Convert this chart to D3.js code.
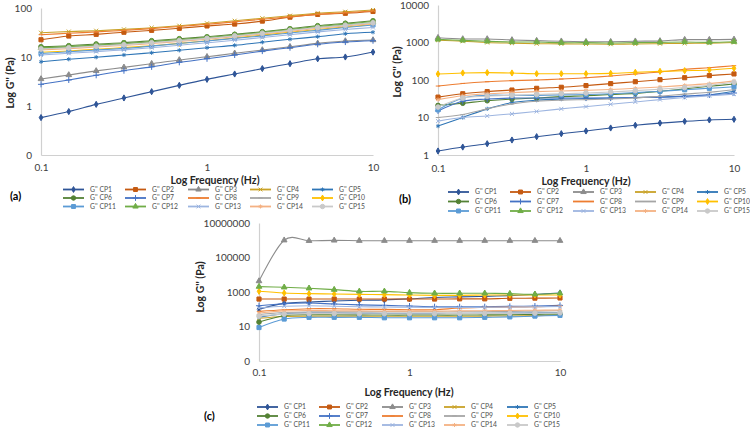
<!DOCTYPE html>
<html lang="en">
<head>
<meta charset="UTF-8">
<title>G'' frequency sweeps</title>
<script src="https://d3js.org/d3.v7.min.js"></script>
<style>
  body { margin: 0; background: #fff; }
  svg text { font-family: Lato, "Open Sans", sans-serif; }
</style>
</head>
<body>
<div id="chart"></div>
<script>
// frequencies (Hz), same for all three panels
var freq = [0.1, 0.147, 0.215, 0.316, 0.464, 0.681, 1, 1.468, 2.154, 3.162, 4.642, 6.813, 10];

var seriesNames = ["G'' CP1", "G'' CP2", "G'' CP3", "G'' CP4", "G'' CP5",
                   "G'' CP6", "G'' CP7", "G'' CP8", "G'' CP9", "G'' CP10",
                   "G'' CP11", "G'' CP12", "G'' CP13", "G'' CP14", "G'' CP15"];

var seriesColors = ["#2F5597", "#C55A11", "#8C8C8C", "#C9A227", "#2E75B6",
                    "#548235", "#4472C4", "#ED7D31", "#A5A5A5", "#FFC000",
                    "#5B9BD5", "#70AD47", "#9DB5E0", "#F4B183", "#C9C9C9"];

var seriesMarkers = ["diamond", "square", "triangle", "x", "star",
                     "circle", "plus", "dash", "dash", "diamond",
                     "square", "triangle", "x", "star", "circle"];

// panel (a)
var valuesA = [
  [0.58, 0.77, 1.08, 1.46, 1.96, 2.64, 3.5, 4.5, 5.8, 7.3, 9.2, 10, 12.6],
  [22.5, 26.8, 29, 32, 35, 38.5, 43, 47, 54, 65, 74, 78, 85],
  [3.56, 4.3, 5.2, 6.15, 7.3, 8.7, 10.1, 11.9, 13.9, 16.2, 19, 21.2, 22.2],
  [31.3, 33, 34.4, 36.7, 39.6, 43.5, 48.7, 55, 61.7, 69.7, 78, 84, 91],
  [8.0, 9.0, 9.9, 11, 12.2, 13.7, 15.5, 17.3, 20, 23, 26, 29.9, 32],
  [16.2, 17, 18.4, 19.6, 21.5, 23.6, 25.9, 29, 32.8, 37.8, 43.5, 48.7, 55],
  [2.77, 3.4, 4.24, 5.25, 6.3, 7.8, 9.2, 11, 13.2, 15.5, 18.2, 20.2, 21.5],
  [28.5, 30.5, 32.5, 35, 38, 42, 46.5, 52, 59, 66, 74, 80, 87],
  [15, 16, 17.3, 18.6, 20.4, 22.4, 24.6, 27.6, 31, 35.5, 40.5, 45, 50],
  [12.5, 13.3, 14.4, 15.5, 17, 19, 21.5, 24.5, 28, 32, 36.5, 41, 46],
  [11.8, 12.8, 13.9, 15, 16.7, 18.9, 21.2, 24, 27, 31, 35, 40, 45],
  [15.5, 16.3, 17.6, 18.9, 20.7, 22.8, 25, 28, 31.7, 36.5, 42, 47, 53],
  [11, 11.9, 12.9, 14, 15.5, 17.4, 19.5, 22, 25, 28.5, 32.5, 36.5, 40],
  [14, 14.8, 16, 17.2, 18.8, 20.8, 23, 26, 29.5, 33.5, 38.5, 43, 48],
  [14.6, 15.4, 16.6, 17.8, 19.5, 21.6, 24, 27, 30.5, 35, 40, 44.5, 50]
];

// panel (b)
var valuesB = [
  [1.28, 1.63, 2.0, 2.51, 3.08, 3.7, 4.37, 5.25, 6.2, 7.1, 7.9, 8.6, 8.95],
  [35, 43, 49, 54, 60, 64, 71, 80, 90, 102, 115, 131, 145],
  [1340, 1240, 1240, 1170, 1120, 1080, 1050, 1050, 1080, 1100, 1190, 1190, 1210],
  [1150, 1080, 1000, 960, 930, 920, 910, 900, 910, 930, 950, 960, 1000],
  [5.9, 10, 17, 25, 29, 31, 32, 33, 34, 35, 37, 40, 50],
  [21, 24, 28, 31, 33, 36, 38, 41, 44, 50, 58, 68, 78],
  [15, 27, 31, 33, 33, 33, 33, 33, 34, 35, 37, 40, 45],
  [69, 81, 90, 96, 100, 106, 115, 128, 145, 163, 192, 213, 241],
  [10, 12, 17, 23, 27, 29, 30, 31, 33, 37, 42, 47, 55],
  [145, 154, 157, 154, 147, 147, 147, 150, 160, 170, 177, 185, 205],
  [16, 33, 39, 39, 39, 40, 41, 43, 46, 50, 55, 60, 66],
  [1210, 1140, 1075, 1030, 1030, 990, 990, 970, 990, 1010, 1030, 1010, 1050],
  [8, 10, 11, 12.5, 14.5, 17, 19.5, 22.5, 26, 30, 34, 38, 42],
  [30, 38, 43, 46, 49, 51, 53, 56, 60, 65, 72, 80, 95],
  [19, 33, 37, 39, 41, 43, 45, 48, 52, 57, 63, 72, 87]
];

// panel (c)
var valuesC = [
  [100, 220, 260, 300, 330, 350, 400, 480, 520, 560, 620, 720, 880],
  [390, 390, 390, 390, 390, 390, 390, 390, 400, 400, 430, 440, 450],
  [4300, 1000000, 930000, 980000, 940000, 940000, 940000, 940000, 940000, 940000, 940000, 940000, 940000],
  [30, 38, 40, 40, 40, 39, 39, 39, 39, 40, 41, 43, 45],
  [35, 55, 60, 60, 58, 57, 56, 56, 57, 58, 60, 62, 65],
  [18, 42, 48, 48, 47, 46, 46, 46, 46, 47, 48, 50, 52],
  [160, 210, 230, 200, 180, 167, 153, 140, 140, 140, 146, 153, 167],
  [75, 93, 107, 107, 100, 98, 93, 93, 117, 128, 135, 140, 155],
  [50, 65, 70, 70, 70, 70, 70, 70, 70, 72, 75, 78, 82],
  [1100, 875, 800, 765, 730, 700, 670, 640, 640, 670, 670, 670, 670],
  [8.7, 27, 34, 34, 34, 32, 32, 32, 32, 34, 36, 40, 44],
  [2050, 1870, 1640, 1370, 1090, 1090, 915, 840, 840, 840, 800, 730, 840],
  [120, 150, 160, 150, 140, 135, 130, 128, 128, 130, 135, 140, 145],
  [60, 80, 85, 82, 80, 78, 78, 78, 80, 82, 85, 88, 90],
  [40, 52, 56, 56, 55, 55, 55, 55, 56, 57, 58, 60, 62]
];

var xTicks = [0.1, 1, 10];
var xTickLabels = ["0.1", "1", "10"];
var yTicksA = [0.1, 1, 10, 100];
var yTickLabelsA = ["0", "1", "10", "100"];
var yTicksB = [1, 10, 100, 1000, 10000];
var yTickLabelsB = ["1", "10", "100", "1000", "10000"];
var yTicksC = [0.1, 10, 1000, 100000, 10000000];
var yTickLabelsC = ["0", "10", "1000", "100000", "10000000"];

var svg = d3.select("#chart").append("svg")
  .attr("width", 750)
  .attr("height", 428);

var symbolDash = {
  draw: function (ctx, size) {
    var w = Math.sqrt(size) * 0.6;
    ctx.moveTo(-w, 0);
    ctx.lineTo(w, 0);
  }
};

var markerTypes = {
  diamond: { type: d3.symbolDiamond, size: 11, filled: true },
  square: { type: d3.symbolSquare, size: 17, filled: true },
  triangle: { type: d3.symbolTriangle, size: 14, filled: true },
  circle: { type: d3.symbolCircle, size: 17, filled: true },
  x: { type: d3.symbolTimes, size: 12, filled: false },
  star: { type: d3.symbolAsterisk, size: 12, filled: false },
  plus: { type: d3.symbolPlus, size: 14, filled: false },
  dash: { type: symbolDash, size: 14, filled: false }
};

function addMarker(g, i, cx, cy, scale) {
  var m = markerTypes[seriesMarkers[i]];
  g.append("path")
    .attr("d", d3.symbol().type(m.type).size(m.size * (scale || 1))())
    .attr("transform", "translate(" + cx + "," + cy + ")")
    .attr("fill", m.filled ? seriesColors[i] : "none")
    .attr("stroke", seriesColors[i])
    .attr("stroke-width", 1);
}

function drawPanel(p) {
  var x = d3.scaleLog().domain([0.1, 10]).range([p.left, p.right]);
  var y = d3.scaleLog().domain(p.yDomain).range([p.bottom, p.top]);

  var g = svg.append("g");

  // axes
  var yAxis = g.append("g")
    .attr("transform", "translate(" + p.left + ",0)")
    .call(d3.axisLeft(y)
      .tickValues(p.yTicks)
      .tickFormat(function (d, i) { return p.yLabels[i]; })
      .tickSize(0)
      .tickPadding(9));
  var xAxis = g.append("g")
    .attr("transform", "translate(0," + p.bottom + ")")
    .call(d3.axisBottom(x)
      .tickValues(xTicks)
      .tickFormat(function (d, i) { return xTickLabels[i]; })
      .tickSize(0)
      .tickPadding(p.xPad));
  [yAxis, xAxis].forEach(function (a) {
    a.select(".domain").attr("stroke", "#D0D0D0").attr("stroke-width", 1.2);
    a.selectAll("text")
      .attr("fill", "#404040")
      .style("font-size", "10px")
      .style("font-family", "Lato, sans-serif");
  });

  // titles
  g.append("text")
    .attr("x", p.xTitle[0])
    .attr("y", p.xTitle[1])
    .attr("text-anchor", "middle")
    .attr("fill", "#262626")
    .style("font-size", "10.5px")
    .style("font-weight", "bold")
    .text("Log Frequency (Hz)");
  g.append("text")
    .attr("transform", "translate(" + p.yTitle[0] + "," + p.yTitle[1] + ") rotate(-90)")
    .attr("text-anchor", "middle")
    .attr("fill", "#262626")
    .style("font-size", "10.5px")
    .style("font-weight", "bold")
    .text("Log G'' (Pa)");
  g.append("text")
    .attr("x", p.tag[0])
    .attr("y", p.tag[1])
    .attr("fill", "#000")
    .style("font-size", "11px")
    .style("font-weight", "bold")
    .text(p.tagText);

  // series
  var line = d3.line()
    .x(function (d) { return x(d[0]); })
    .y(function (d) { return y(d[1]); })
    .curve(d3.curveCatmullRom.alpha(0));

  p.values.forEach(function (vals, i) {
    var pts = freq.map(function (f, k) { return [f, vals[k]]; });
    var sg = g.append("g");
    sg.append("path")
      .datum(pts)
      .attr("fill", "none")
      .attr("stroke", seriesColors[i])
      .attr("stroke-width", 1.1)
      .attr("d", line);
    pts.forEach(function (d) {
      addMarker(sg, i, x(d[0]), y(d[1]));
    });
  });

  // legend
  seriesNames.forEach(function (name, i) {
    var col = i % 5, row = Math.floor(i / 5);
    var lx = p.legX[col], ly = p.legY[row];
    var lg = g.append("g");
    lg.append("line")
      .attr("x1", lx).attr("x2", lx + 21)
      .attr("y1", ly).attr("y2", ly)
      .attr("stroke", seriesColors[i])
      .attr("stroke-width", 1.8);
    addMarker(lg, i, lx + 10.5, ly, 0.9);
    lg.append("text")
      .attr("x", lx + 27)
      .attr("y", ly)
      .attr("dy", "0.35em")
      .attr("fill", "#505050")
      .style("font-size", "6.8px")
      .text(name);
  });
}

drawPanel({
  values: valuesA, left: 41, right: 373, top: 8, bottom: 155,
  yDomain: [0.1, 100], yTicks: yTicksA, yLabels: yTickLabelsA, xPad: 9,
  xTitle: [215, 183.5], yTitle: [14, 83], tag: [10, 200], tagText: "(a)",
  legX: [63, 125, 188, 250, 312], legY: [189.5, 198, 206.5]
});

drawPanel({
  values: valuesB, left: 438, right: 734, top: 5, bottom: 155,
  yDomain: [1, 10000], yTicks: yTicksB, yLabels: yTickLabelsB, xPad: 10,
  xTitle: [586, 184.5], yTitle: [401, 72], tag: [399, 203], tagText: "(b)",
  legX: [448, 510, 573, 635, 697], legY: [192, 201.5, 211]
});

drawPanel({
  values: valuesC, left: 259, right: 560, top: 223, bottom: 361,
  yDomain: [0.1, 10000000], yTicks: yTicksC, yLabels: yTickLabelsC, xPad: 8,
  xTitle: [409, 396], yTitle: [204, 287], tag: [204, 420], tagText: "(c)",
  legX: [257, 319, 382, 444, 507], legY: [407, 416, 425]
});
</script>
</body>
</html>
